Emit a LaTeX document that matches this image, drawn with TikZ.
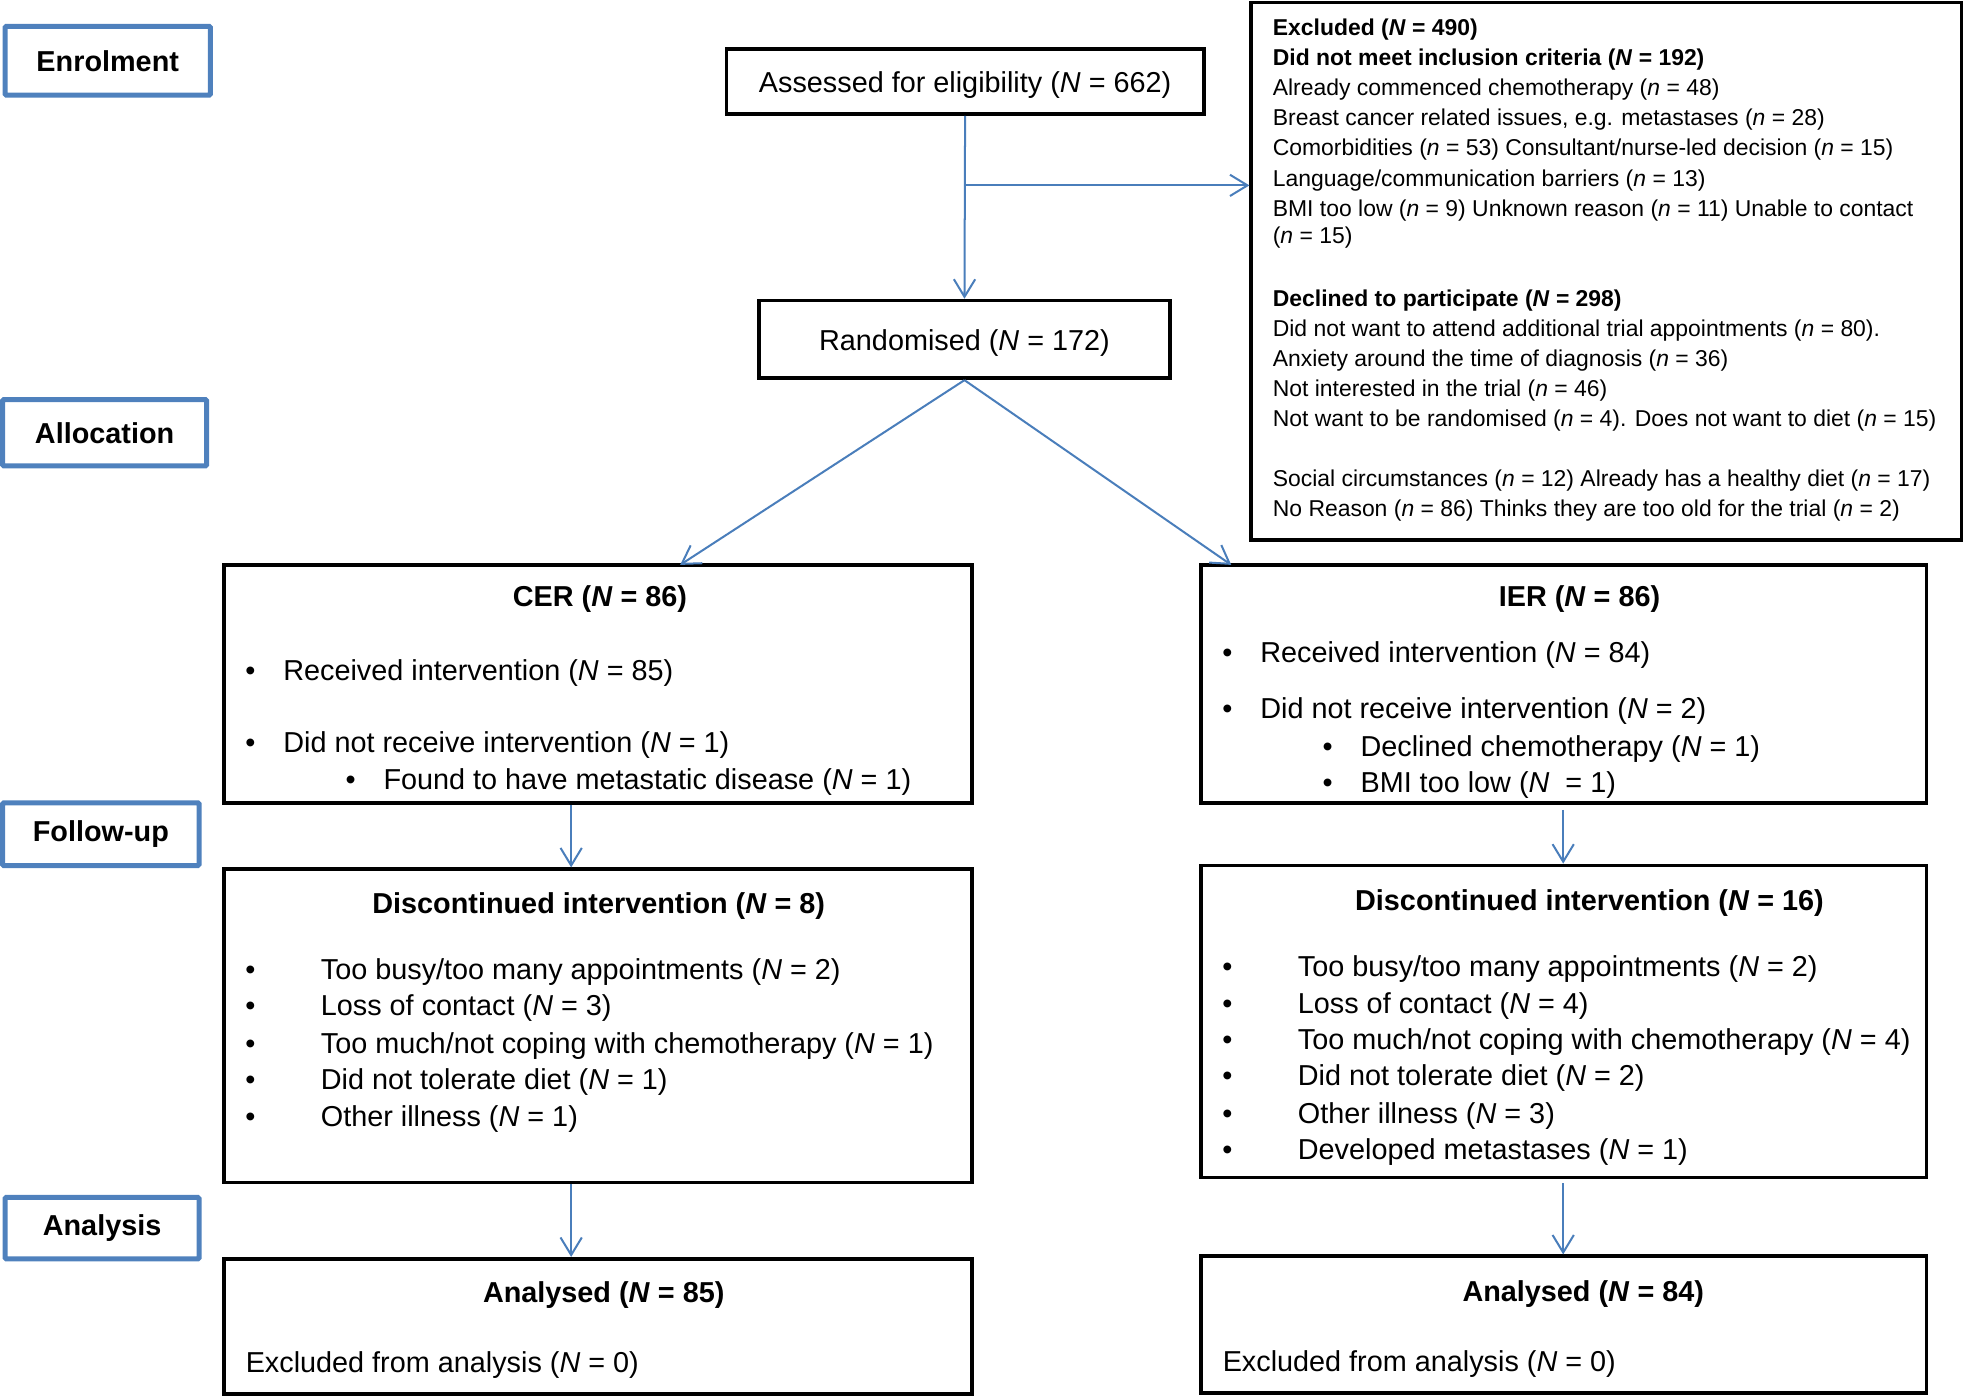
\documentclass[tikz,border=0pt]{standalone}
\usepackage{fontspec}
\setmainfont{Liberation Sans}
\usetikzlibrary{arrows.meta}
\definecolor{sideblue}{RGB}{79,129,189}
\definecolor{arrowblue}{RGB}{74,126,187}
\newcommand\fmain{\fontsize{23}{28}\selectfont}
\newcommand\fsmall{\fontsize{18.3}{24}\selectfont}
\newcommand\iN{\textit{N}}
\newcommand\smalln{\textit{n}}
\begin{document}
\begin{tikzpicture}[x=1pt,y=-1pt,
  frame/.style={draw=black,line width=3pt,inner sep=0pt,fill=white,font=\fmain,text height=20pt,text depth=3pt},
  side/.style={draw=sideblue,line width=4pt,inner sep=0pt,rounded corners=1pt,font=\fmain\bfseries},
  arr/.style={draw=arrowblue,line width=1.6pt,-{Straight Barb[length=14pt,width=17pt,line width=1.6pt]}},
  lt/.style={anchor=base west,inner sep=0pt,font=\fmain},
  st/.style={anchor=base west,inner sep=0pt,font=\fsmall},
  sb/.style={anchor=base west,inner sep=0pt,font=\fsmall\bfseries},
  ttl/.style={anchor=base,inner sep=0pt,font=\fmain\bfseries},
  bul/.style={anchor=base,inner sep=0pt,font=\fmain},
]
\useasboundingbox (0,0) rectangle (1568,1115);

% side labels
\node[side,minimum width=164pt,minimum height=55pt] (enr) at (86,48.5) {Enrolment};
\node[side,minimum width=163pt,minimum height=53pt] (all) at (83.5,345.5) {Allocation};
\node[side,minimum width=157pt,minimum height=50pt] (fol) at (80.5,666) {Follow-up};
\node[side,minimum width=155pt,minimum height=49pt] (ana) at (81.5,980.5) {Analysis};

% main boxes
\node[frame,minimum width=381pt,minimum height=52pt] (assess) at (770.5,65) {Assessed for eligibility (\iN{} = 662)};
\node[frame,minimum width=328pt,minimum height=62pt] (rand) at (770,271) {Randomised (\iN{} = 172)};
\node[frame,minimum width=567pt,minimum height=429pt] (excl) at (1282.5,216.5) {};
\node[frame,minimum width=597pt,minimum height=190pt] (cer) at (477.5,546) {};
\node[frame,minimum width=579pt,minimum height=190pt] (ier) at (1248.5,546) {};
\node[frame,minimum width=597pt,minimum height=250pt] (dcer) at (477.5,819) {};
\node[frame,minimum width=579pt,minimum height=249pt] (dier) at (1248.5,815.5) {};
\node[frame,minimum width=597pt,minimum height=108pt] (acer) at (477.5,1059) {};
\node[frame,minimum width=579pt,minimum height=109pt] (aier) at (1248.5,1057.5) {};

% excluded text
\node[sb] (e1) at (1016,28.5) {Excluded (\iN{} = 490)};
\node[sb] (e2) at (1016,52.5) {Did not meet inclusion criteria (\iN{} = 192)};
\node[st] (e3) at (1016,76.5) {Already commenced chemotherapy (\smalln{} = 48)};
\node[st] (e4) at (1016,100.5) {Breast cancer related issues, e.g. metastases (\smalln{} = 28)};
\node[st] (e5) at (1016,124.5) {Comorbidities (\smalln{} = 53) Consultant/nurse-led decision (\smalln{} = 15)};
\node[st] (e6) at (1016,148.5) {Language/communication barriers (\smalln{} = 13)};
\node[st] (e7) at (1016,172.5) {BMI too low (\smalln{} = 9) Unknown reason (\smalln{} = 11) Unable to contact};
\node[st] (e8) at (1016,194.5) {(\smalln{} = 15)};
\node[sb] (e9) at (1016,244.5) {Declined to participate (\iN{} = 298)};
\node[st] (e10) at (1016,268.5) {Did not want to attend additional trial appointments (\smalln{} = 80).};
\node[st] (e11) at (1016,292.5) {Anxiety around the time of diagnosis (\smalln{} = 36)};
\node[st] (e12) at (1016,316.5) {Not interested in the trial (\smalln{} = 46)};
\node[st] (e13) at (1016,340.5) {Not want to be randomised (\smalln{} = 4). Does not want to diet (\smalln{} = 15)};
\node[st] (e14) at (1016,388.5) {Social circumstances (\smalln{} = 12) Already has a healthy diet (\smalln{} = 17)};
\node[st] (e15) at (1016,412.5) {No Reason (\smalln{} = 86) Thinks they are too old for the trial (\smalln{} = 2)};

% CER
\node[ttl] (cert) at (479,484) {CER (\iN{} = 86)};
\node[bul] (cb1) at (200,543) {•};
\node[lt] (c1) at (226,543) {Received intervention (\iN{} = 85)};
\node[bul] (cb2) at (200,601) {•};
\node[lt] (c2) at (226,601) {Did not receive intervention (\iN{} = 1)};
\node[bul] (cb3) at (280,630) {•};
\node[lt] (c3) at (306,630) {Found to have metastatic disease (\iN{} = 1)};

% IER
\node[ttl] (iert) at (1261,484) {IER (\iN{} = 86)};
\node[bul] (ib1) at (980,529) {•};
\node[lt] (i1) at (1006,529) {Received intervention (\iN{} = 84)};
\node[bul] (ib2) at (980,574) {•};
\node[lt] (i2) at (1006,574) {Did not receive intervention (\iN{} = 2)};
\node[bul] (ib3) at (1060,604) {•};
\node[lt] (i3) at (1086,604) {Declined chemotherapy (\iN{} = 1)};
\node[bul] (ib4) at (1060,633) {•};
\node[lt] (i4) at (1086,633) {BMI too low (\iN{}\ \ = 1)};

% Discontinued CER
\node[ttl] (dct) at (478,729) {Discontinued intervention (\iN{} = 8)};
\node[bul] (db1) at (200,782) {•};
\node[lt] (d1) at (256,782) {Too busy/too many appointments (\iN{} = 2)};
\node[bul] (db2) at (200,811) {•};
\node[lt] (d2) at (256,811) {Loss of contact (\iN{} = 3)};
\node[bul] (db3) at (200,841) {•};
\node[lt] (d3) at (256,841) {Too much/not coping with chemotherapy (\iN{} = 1)};
\node[bul] (db4) at (200,870) {•};
\node[lt] (d4) at (256,870) {Did not tolerate diet (\iN{} = 1)};
\node[bul] (db5) at (200,899) {•};
\node[lt] (d5) at (256,899) {Other illness (\iN{} = 1)};

% Discontinued IER
\node[ttl] (dit) at (1269,727) {Discontinued intervention (\iN{} = 16)};
\node[bul] (jb1) at (980,780) {•};
\node[lt] (j1) at (1036,780) {Too busy/too many appointments (\iN{} = 2)};
\node[bul] (jb2) at (980,809) {•};
\node[lt] (j2) at (1036,809) {Loss of contact (\iN{} = 4)};
\node[bul] (jb3) at (980,838) {•};
\node[lt] (j3) at (1036,838) {Too much/not coping with chemotherapy (\iN{} = 4)};
\node[bul] (jb4) at (980,867) {•};
\node[lt] (j4) at (1036,867) {Did not tolerate diet (\iN{} = 2)};
\node[bul] (jb5) at (980,897) {•};
\node[lt] (j5) at (1036,897) {Other illness (\iN{} = 3)};
\node[bul] (jb6) at (980,926) {•};
\node[lt] (j6) at (1036,926) {Developed metastases (\iN{} = 1)};

% Analysed
\node[ttl] (act) at (482,1040) {Analysed (\iN{} = 85)};
\node[lt] (ac1) at (196,1096) {Excluded from analysis (\iN{} = 0)};
\node[ttl] (ait) at (1264,1039) {Analysed (\iN{} = 84)};
\node[lt] (ai1) at (976,1095) {Excluded from analysis (\iN{} = 0)};

% connectors
\coordinate (br) at (770,148);
\coordinate (cerin) at (543,451);
\coordinate (ierin) at (983,451);
\coordinate (lx) at (456,0);
\coordinate (rx) at (1248,0);
\draw[arr] (assess.south) -- (rand.north);
\draw[arr] (br) -- (br -| excl.west);
\draw[arr] (rand.south) -- (cerin);
\draw[arr] (rand.south) -- (ierin);
\draw[arr] (cer.south -| lx) -- (dcer.north -| lx);
\draw[arr,shorten <=4pt] (ier.south -| rx) -- (dier.north -| rx);
\draw[arr] (dcer.south -| lx) -- (acer.north -| lx);
\draw[arr,shorten <=3pt] (dier.south -| rx) -- (aier.north -| rx);
\end{tikzpicture}
\end{document}
